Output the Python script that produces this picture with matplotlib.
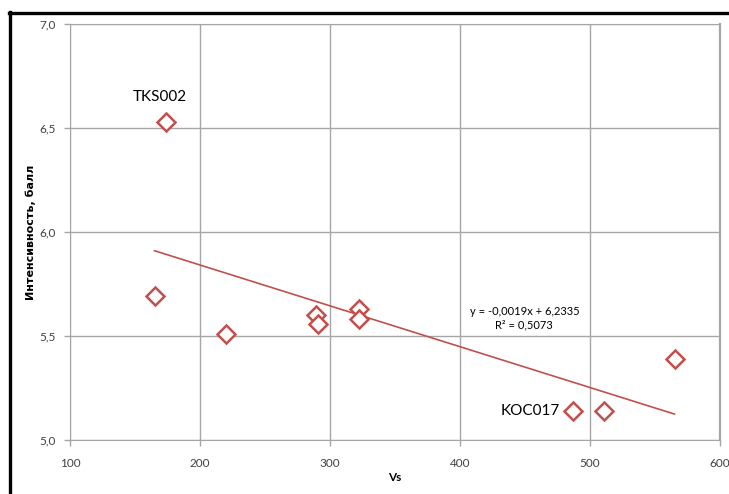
#%% Load modules
import numpy as np
import matplotlib.pyplot as plt
from matplotlib.lines import Line2D

#%% Data
vs = [174, 165, 220, 289, 291, 322, 322, 487, 511, 565]
intensity = [6.53, 5.69, 5.51, 5.60, 5.56, 5.63, 5.58, 5.14, 5.14, 5.39]
x_ticks = [100, 200, 300, 400, 500, 600]
y_ticks = [5.0, 5.5, 6.0, 6.5, 7.0]
y_tick_labels = ['5,0', '5,5', '6,0', '6,5', '7,0']
labels = {'TKS002': (174, 6.53), 'KOC017': (487, 5.14)}
eq_text = 'y = -0,0019x + 6,2335'
r2_text = 'R² = 0,5073'

red = '#c0504d'
grid_c = '#a6a6a6'
plt.rcParams['font.family'] = ['Lato', 'DejaVu Sans']

#%% Plot
fig = plt.figure(figsize=(7.29, 4.94), dpi=100)
ax = fig.add_axes([70/729, 1-440/494, 650/729, 416/494])

# trend line (least squares, like Excel)
k, b = np.polyfit(vs, intensity, 1)
xl = np.array([min(vs), max(vs)])
ax.plot(xl, k*xl + b, color=red, lw=1.2, zorder=2)

ax.plot(vs, intensity, 'D', ms=9, mfc='white', mec=red, mew=1.8, zorder=3)

ax.set_xlim(100, 600)
ax.set_ylim(5.0, 7.0)
ax.set_xticks(x_ticks)
ax.set_yticks(y_ticks)
ax.set_yticklabels(y_tick_labels)
ax.grid(True, color=grid_c, lw=1)
ax.set_axisbelow(True)
ax.tick_params(colors=grid_c, labelcolor='#404040', labelsize=8.5, length=4, width=1)
ax.tick_params(axis='x', pad=9)
ax.tick_params(axis='y', pad=6)
for s in ax.spines.values():
    s.set_color(grid_c)
ax.spines['right'].set_linewidth(1.6)

ax.set_xlabel('Vs', fontsize=8.5, fontweight='bold', labelpad=2)
ax.set_ylabel('Интенсивность, балл', fontsize=8, fontweight='bold', labelpad=3,
              family='DejaVu Sans')

ax.annotate('TKS002', labels['TKS002'], xytext=(-4.5, 18), textcoords='offset points',
            ha='center', va='center', fontsize=11)
ax.annotate('KOC017', labels['KOC017'], xytext=(-31, 0), textcoords='offset points',
            ha='center', va='center', fontsize=11)
ax.text(0.699, 0.293, eq_text + '\n' + r2_text, transform=ax.transAxes,
        ha='center', va='center', fontsize=8, linespacing=1.35)

# black frame at top and left
fig.add_artist(Line2D([9/729, 1], [1-13/494, 1-13/494], color='black', lw=2.4))
fig.add_artist(Line2D([10/729, 10/729], [0, 1-12/494], color='black', lw=2.4))

fig.savefig('out.png', dpi=100)
